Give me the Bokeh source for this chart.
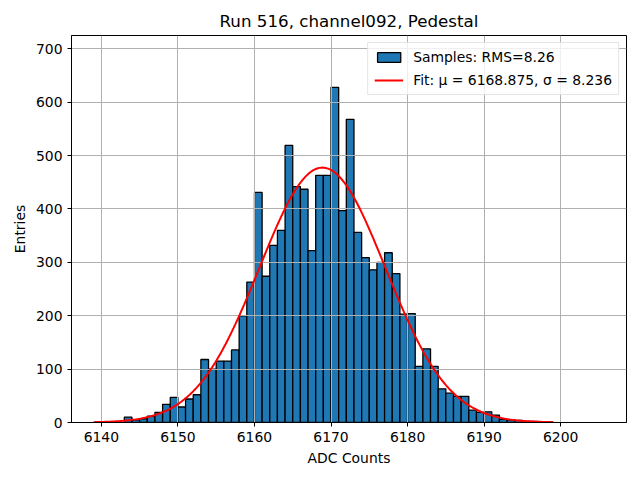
import numpy as np
from bokeh.plotting import figure
from bokeh.models import ColumnDataSource, Range1d, FixedTicker, Legend, LegendItem
from bokeh.embed import file_html
from bokeh.resources import INLINE

# ---- data ----
bin_edges_left = list(range(6139, 6199))
counts = [0, 0, 0, 0, 10, 5, 7, 12, 19, 34,
          47, 29, 44, 52, 118, 100, 115, 115, 136, 200,
          263, 431, 274, 332, 360, 519, 442, 437, 322, 463,
          463, 628, 397, 568, 356, 309, 286, 300, 318, 279,
          203, 204, 105, 138, 105, 63, 55, 49, 49, 23,
          19, 20, 14, 6, 5, 4, 2, 2, 1, 1]
bin_width = 1
fit_mu = 6168.875
fit_sigma = 8.236
rms = 8.26
fit_range = [6139, 6199]
x_ticks = [6140, 6150, 6160, 6170, 6180, 6190, 6200]
y_ticks = [0, 100, 200, 300, 400, 500, 600, 700]
title = "Run 516, channel092, Pedestal"

FONT = "DejaVu Sans"

hist_src = ColumnDataSource(dict(
    left=bin_edges_left,
    right=[b + bin_width for b in bin_edges_left],
    top=counts,
    bottom=[0] * len(counts),
))

# Gaussian fit curve from the fitted parameters shown in the legend
n_entries = sum(counts)
fx = np.linspace(fit_range[0], fit_range[1], 300)
fy = n_entries * bin_width / (fit_sigma * np.sqrt(2 * np.pi)) * np.exp(-0.5 * ((fx - fit_mu) / fit_sigma) ** 2)
fit_src = ColumnDataSource(dict(x=fx, y=fy))

p = figure(width=640, height=480, output_backend="svg", toolbar_location=None,
           x_range=Range1d(6136.1, 6208.6), y_range=Range1d(0, 725),
           min_border_left=71, min_border_right=14, min_border_bottom=58, min_border_top=35)

p.title.text = title
p.title.align = "center"
p.title.text_font = FONT
p.title.text_font_size = "16.7px"
p.title.text_font_style = "normal"
p.title.text_color = "black"

bars = p.quad(left="left", right="right", top="top", bottom="bottom", source=hist_src,
              fill_color="#1f77b4", line_color="black", line_width=1.3, level="image")
line = p.line("x", "y", source=fit_src, line_color="red", line_width=2)

for ax in (p.xaxis[0], p.yaxis[0]):
    ax.major_label_text_font = FONT
    ax.major_label_text_font_size = "13.9px"
    ax.major_label_text_color = "black"
    ax.axis_label_text_font = FONT
    ax.axis_label_text_font_size = "13.9px"
    ax.axis_label_text_font_style = "normal"
    ax.axis_label_text_color = "black"
    ax.axis_line_color = "black"
    ax.major_tick_line_color = "black"
    ax.major_tick_out = 4
    ax.major_tick_in = 0
    ax.minor_tick_line_color = None

p.xaxis.axis_label = "ADC Counts"
p.yaxis.axis_label = "Entries"
p.xaxis.ticker = FixedTicker(ticks=x_ticks)
p.yaxis.ticker = FixedTicker(ticks=y_ticks)

p.xgrid.ticker = FixedTicker(ticks=x_ticks)
p.ygrid.ticker = FixedTicker(ticks=y_ticks)
for g in (p.xgrid[0], p.ygrid[0]):
    g.grid_line_color = "#b0b0b0"
    g.grid_line_width = 1
    g.level = "underlay"

p.outline_line_color = "black"
p.outline_line_width = 1
p.background_fill_color = "white"

legend = Legend(items=[
    LegendItem(label="Samples: RMS=%.2f" % rms, renderers=[bars]),
    LegendItem(label="Fit: \u03bc = %.3f, \u03c3 = %.3f" % (fit_mu, fit_sigma), renderers=[line]),
], location="top_right")
legend.label_text_font = FONT
legend.label_text_font_size = "13.9px"
legend.label_text_color = "black"
legend.glyph_width = 29
legend.glyph_height = 12
legend.label_height = 12
legend.spacing = 7
legend.padding = 6
legend.margin = 7
legend.label_standoff = 10
legend.border_line_color = "#cccccc"
legend.background_fill_alpha = 0.8
p.add_layout(legend)

open("out.html", "w").write(file_html(p, INLINE))
